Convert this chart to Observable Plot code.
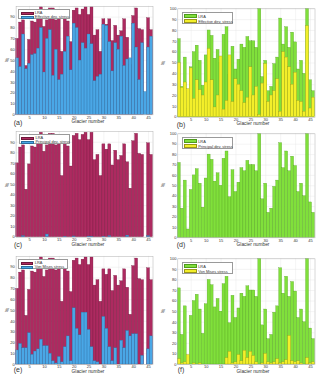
<!DOCTYPE html>
<html><head><meta charset="utf-8">
<script src="https://cdn.jsdelivr.net/npm/d3@7"></script>
<script src="https://cdn.jsdelivr.net/npm/@observablehq/plot@0.6"></script>
<style>
body{margin:0;background:#fff;}
#root{position:relative;width:320px;height:377px;overflow:hidden;font-family:"Liberation Sans",Arial,sans-serif;color:#333;}
#root svg{position:absolute;}
.t{position:absolute;white-space:nowrap;transform:translate(-50%,-50%);line-height:1;}
.leg{position:absolute;background:#fff;border:0.5px solid #9a9a9a;box-sizing:border-box;}
.sw{position:absolute;box-sizing:border-box;border:0.4px solid #333;}
.lt{position:absolute;white-space:nowrap;line-height:1;transform:translateY(-50%);}
</style></head><body><div id="root"></div>
<script>
// ---------- data ----------
const glaciers = d3.range(1, 47);
const xTickLabels = [5, 10, 15, 20, 25, 30, 35, 40, 45];
const yTicksLeft = [0, 10, 20, 30, 40, 50, 60, 70, 80, 90];
const yTicksRight = [0, 10, 20, 30, 40, 50, 60, 70, 80, 90, 100];

// LRA, left column (a, c, e)
const lraLeft = [70,85,87,45,69,86,85,88,99,81, 87,98,98,87,88,58,89,86,67,96,
                 98,92,97,99,92,99,73,78,58,88, 83,88,68,82,73,77,88,71,46,91,
                 98,79,78,null,89,78];
// (a) Effective dev. stress
const effLeft = [52,44,74,42,47,55,56,61,80,39, 70,78,36,60,32,37,58,72,41,84,
                 80,50,66,61,74,65,31,35,37,83, 82,67,40,66,60,72,45,51,52,84,
                 62,32,66,21,62,72];
// (c) Principal dev. stress
const prinLeft = [0,0,1,0,0,0,0,0,0,0, 2.5,0,0,0,0,0,0.5,0,0,0.7,
                  0,0,0,0,0.6,0.5,0,0,0,0.5, 0,1,0,0,0,0,0,1.5,0,0,
                  0,0,0,null,1,0];
// (e) Von Mises stress
const vmLeft = [13,19,15,15,29,9,12,14,23,17, 17,10,3,1,7,2,16,26,3,52,
                33,27,48,48,32,16,3,2,0,44, 33,16,3,15,0,22,15,31,26,28,
                28,0,8,null,14,26];

// LRA, right column (b, d, f)
const lraRight = [72,28,55,8,46,60,66,52,29,57, 80,75,54,62,50,76,83,39,65,44,
                  53,67,64,74,70,70,64,100,37,52, 24,28,49,55,91,67,83,64,78,69,
                  44,52,40,100,34,24];
// (b) Effective dev. stress
const effRight = [50,27,32,26,45,17,34,25,20,32, 63,34,9,20,56,7,15,57,14,35,
                  30,24,13,18,46,20,28,2,31,49, 14,20,24,35,5,60,55,46,30,41,
                  15,14,5,84,8,18];
// (d) Principal dev. stress
const prinRight = glaciers.map(() => 0);
// (f) Von Mises stress
const vmRight = [5,1,2,9,0,1,0,1,0,0, 0,0,0,0,0,0,6,12,1,2,
                 9,3,13,6,12,8,2,0,1,10, 2,1,2,5,1,2,4,27,3,2,
                 3,1,0,6,1,2];

const legendNames = ["LRA", "Effective dev. stress", "Principal dev. stress", "Von Mises stress"];
const letters = ["(a)", "(b)", "(c)", "(d)", "(e)", "(f)"];

// ---------- styles ----------
const magenta = "#ad2a60", magentaEdge = "#6e1739";
const blue = "#4aa7e6", blueEdge = "#2a6f9e";
const green = "#80e03b", greenEdge = "#4f9a1e";
const yellow = "#f3ef2a", yellowEdge = "#9a9618";

const panels = [
  {letter:letters[0], left:0, top:0, w:160, h:125, m:[5.8,7.5,10.7,15.6], yt:yTicksLeft, lra:lraLeft, sub:effLeft, name:legendNames[1],
   c1:magenta, s1:magentaEdge, c2:blue, s2:blueEdge, leg:[18.3,9.3,51.7,10.2], let:[18,121.9], xl:[88,122.4], yl:[7,60]},
  {letter:letters[1], left:160, top:0, w:160, h:125, m:[8.3,5.5,8.3,17.3], yt:yTicksRight, lra:lraRight, sub:effRight, name:legendNames[1],
   c1:green, s1:greenEdge, c2:yellow, s2:yellowEdge, leg:[181.7,12,51.6,12], let:[181,123.6], xl:[253,124.3], yl:[163.3,63]},
  {letter:letters[2], left:0, top:125, w:160, h:125, m:[6.2,7.5,13.3,15.6], yt:yTicksLeft, lra:lraLeft, sub:prinLeft, name:legendNames[2],
   c1:magenta, s1:magentaEdge, c2:blue, s2:blueEdge, leg:[19,134.3,51,10.2], let:[18,243.5], xl:[88,244.8], yl:[7,185]},
  {letter:letters[3], left:160, top:125, w:160, h:125, m:[8.3,5.5,12.7,17.3], yt:yTicksRight, lra:lraRight, sub:prinRight, name:legendNames[2],
   c1:green, s1:greenEdge, c2:yellow, s2:yellowEdge, leg:[181.7,137,51.6,12], let:[181,243.5], xl:[253,245.3], yl:[163.3,185]},
  {letter:letters[4], left:0, top:250, w:160, h:127, m:[5.9,7.5,13,15.6], yt:yTicksLeft, lra:lraLeft, sub:vmLeft, name:legendNames[3],
   c1:magenta, s1:magentaEdge, c2:blue, s2:blueEdge, leg:[18.3,259.3,50,10.2], let:[18,368.5], xl:[88,371.8], yl:[7,310]},
  {letter:letters[5], left:160, top:250, w:160, h:127, m:[8.3,5.5,13,17.3], yt:yTicksRight, lra:lraRight, sub:vmRight, name:legendNames[3],
   c1:green, s1:greenEdge, c2:yellow, s2:yellowEdge, leg:[181.7,262,51.6,12], let:[181,368.8], xl:[253,372], yl:[163.3,311]}
];

const root = document.getElementById("root");
function addText(txt, x, y, size, extra="") {
  const d = document.createElement("div");
  d.className = "t";
  d.textContent = txt;
  d.style.left = x + "px"; d.style.top = y + "px"; d.style.fontSize = size + "px";
  if (extra) d.style.transform = "translate(-50%,-50%) " + extra;
  root.appendChild(d);
}

for (const p of panels) {
  const data = glaciers.map((g, i) => ({g, lra: p.lra[i], sub: p.sub[i]}));
  const svg = Plot.plot({
    width: p.w, height: p.h,
    marginTop: p.m[0], marginRight: p.m[1], marginBottom: p.m[2], marginLeft: p.m[3],
    style: {fontSize: "4px", fontFamily: "Liberation Sans, Arial, sans-serif", color: "#333", background: "transparent", overflow: "visible"},
    x: {domain: [0.5, 46.5]},
    y: {domain: [0, 100]},
    marks: [
      Plot.gridX(xTickLabels, {stroke: "#e3e3e3", strokeOpacity: 1, strokeWidth: 0.4}),
      Plot.gridY(p.yt, {stroke: "#e3e3e3", strokeOpacity: 1, strokeWidth: 0.4}),
      Plot.rect(data.filter(d => d.lra != null), {x1: d => d.g - 0.5, x2: d => d.g + 0.5, y1: 0, y2: "lra", fill: p.c1, stroke: p.s1, strokeWidth: 0.3}),
      Plot.rect(data.filter(d => d.sub != null && d.sub > 0), {x1: d => d.g - 0.5, x2: d => d.g + 0.5, y1: 0, y2: "sub", fill: p.c2, stroke: p.s2, strokeWidth: 0.3}),
      Plot.frame({stroke: "#b0b0b0", strokeWidth: 0.5}),
      Plot.axisX(xTickLabels, {tickSize: 0, tickPadding: 1.0, label: null}),
      Plot.axisY(p.yt, {tickSize: 0, tickPadding: 1.4, label: null})
    ]
  });
  svg.style.left = p.left + "px";
  svg.style.top = p.top + "px";
  root.appendChild(svg);

  // legend
  const [lx, ly, lw, lh] = p.leg;
  const leg = document.createElement("div");
  leg.className = "leg";
  Object.assign(leg.style, {left: lx + "px", top: ly + "px", width: lw + "px", height: lh + "px"});
  const rowH = (lh - 2) / 2;
  [[legendNames[0], p.c1, p.s1], [p.name, p.c2, p.s2]].forEach(([name, c, s], i) => {
    const sw = document.createElement("div");
    sw.className = "sw";
    Object.assign(sw.style, {left: "1.3px", top: (1 + i * rowH + 0.3) + "px", width: (lw > 51 ? 13.3 : 12.5) + "px", height: (rowH - 0.8) + "px", background: c, borderColor: s});
    leg.appendChild(sw);
    const t = document.createElement("div");
    t.className = "lt";
    t.textContent = name;
    Object.assign(t.style, {left: "15.5px", top: (1 + i * rowH + rowH / 2) + "px", fontSize: "3.9px"});
    leg.appendChild(t);
  });
  root.appendChild(leg);

  addText(p.letter, p.let[0], p.let[1], 7);
  addText("Glacier number", p.xl[0], p.xl[1], 4.8);
  addText("%", p.yl[0], p.yl[1], 5, "rotate(-90deg)");
}
</script>
</body></html>
